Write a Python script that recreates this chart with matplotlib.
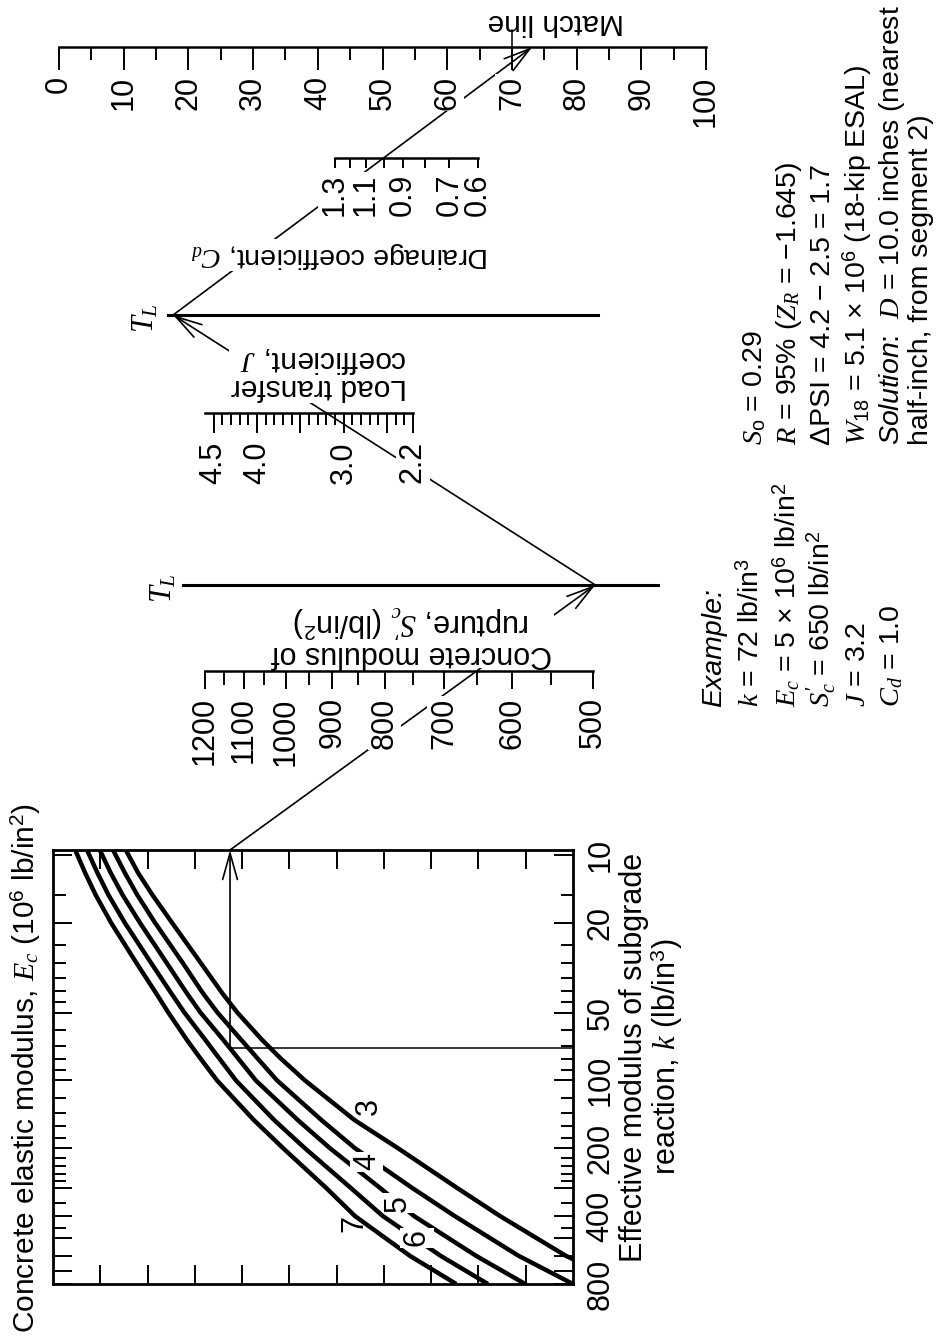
import numpy as np
import matplotlib.pyplot as plt
from matplotlib.ticker import NullFormatter

plt.rcParams['font.family'] = ['Liberation Sans', 'DejaVu Sans']
plt.rcParams['font.size'] = 22
plt.rcParams['mathtext.fontset'] = 'custom'
plt.rcParams['mathtext.rm'] = 'Liberation Sans'
plt.rcParams['mathtext.it'] = 'Liberation Serif:italic'
plt.rcParams['mathtext.sf'] = 'Liberation Sans:italic'

# ---- data ---------------------------------------------------------------
# curves of constant Ec (10^6 psi), read as position on the unlabeled
# turning scale (0..11) at given k values
curve_k = [9.5, 12, 15, 20, 30, 41, 50, 66, 80, 100, 150, 200, 300, 400, 600, 800]
ec3_x = [1.54, 1.80, 2.10, 2.52, 3.12, 3.58, 3.90, 4.42, 4.82, 5.33, 6.38, 7.30, 8.55, 9.46, 10.85, 12.10]
ec4_x = [1.27, 1.52, 1.78, 2.16, 2.74, 3.17, 3.48, 3.98, 4.33, 4.74, 5.68, 6.39, 7.60, 8.50, 9.85, 11.00]
ec5_x = [0.99, 1.22, 1.47, 1.84, 2.40, 2.83, 3.12, 3.60, 3.92, 4.29, 5.18, 5.86, 6.92, 7.64, 8.95, 9.99]
ec6_x = [0.72, 0.94, 1.17, 1.52, 2.07, 2.50, 2.78, 3.22, 3.52, 3.87, 4.68, 5.33, 6.30, 6.98, 8.20, 9.20]
ec7_x = [0.47, 0.68, 0.90, 1.23, 1.76, 2.18, 2.44, 2.83, 3.12, 3.47, 4.25, 4.87, 5.78, 6.39, 7.55, 8.53]
ec_labels = ['3', '4', '5', '6', '7']

k_labels = [10, 20, 50, 100, 200, 400, 800]
k_major = [10, 20, 50, 100, 200, 300, 400, 500, 600, 700, 800]
k_minor = [15, 25, 30, 35, 40, 45, 60, 70, 80, 90, 120, 140, 160, 180,
           220, 240, 260, 280, 350, 450]
turn_ticks = [1, 2, 3, 4, 5, 6, 7, 8, 9, 10]

sc_major = [1200, 1100, 1000, 900, 800, 700, 600, 500]
sc_minor = [1150, 1050, 950, 850, 750, 650, 550]
j_major = [4.5, 4.0, 3.0, 2.2]
j_long = [3.5, 2.5]
j_minor = [2.3, 2.4, 2.6, 2.7, 2.8, 2.9, 3.1, 3.2, 3.3, 3.4, 3.6, 3.7,
           3.8, 3.9, 4.1, 4.2, 4.3, 4.4]
cd_major = [1.3, 1.1, 0.9, 0.7, 0.6]
cd_minor = [1.2, 1.0, 0.8]
match_major = [0, 10, 20, 30, 40, 50, 60, 70, 80, 90, 100]
match_minor = [5, 15, 25, 35, 45, 55, 65, 75, 85, 95]
match_mark = 70

# example
k_ex = 72
ec_ex_x = ec5_x
sc_ex = 650
j_ex = 3.2
cd_ex = 1.0

W, H = 936, 1339
fig = plt.figure(figsize=(W / 100, H / 100), dpi=100)


def px_axes(x0, y0, x1, y1):
    return fig.add_axes([x0 / W, 1 - y1 / H, (x1 - x0) / W, (y1 - y0) / H])


# overlay in pixel coordinates for the example path and titles
ov = px_axes(0, 0, W, H)
ov.set_xlim(0, W)
ov.set_ylim(H, 0)
ov.axis('off')
ov.set_zorder(1)


def nomo_scale(x0, x1, y, tlen, lim, major, labels, minor, mlen, log=True, pad=6):
    ax = px_axes(x0, y, x1, y + tlen)
    ax.set_zorder(2)
    ax.patch.set_visible(False)
    for s in ('left', 'right', 'bottom'):
        ax.spines[s].set_visible(False)
    ax.spines['top'].set_linewidth(1.8)
    if log:
        ax.set_xscale('log')
    ax.set_xlim(*lim)
    ax.set_ylim(0, 1)
    ax.set_yticks([])
    ax.set_xticks(major, labels=labels)
    ax.set_xticks(minor, minor=True)
    ax.xaxis.set_minor_formatter(NullFormatter())
    ax.tick_params(axis='x', which='both', direction='in', top=True, bottom=False,
                   labeltop=False, labelbottom=True, labelrotation=90, width=1.4,
                   pad=pad, labelsize=22)
    ax.tick_params(axis='x', which='major', length=tlen * 0.72)
    ax.tick_params(axis='x', which='minor', length=mlen * 0.72)
    for lbl in ax.get_xticklabels():
        lbl.set_bbox(dict(fc='white', ec='none', pad=1))
    return ax


def tl_line(x0, x1, y):
    ax = px_axes(x0, y, x1, y + 1)
    ax.set_zorder(2)
    ax.patch.set_visible(False)
    for s in ('left', 'right', 'bottom'):
        ax.spines[s].set_visible(False)
    ax.spines['top'].set_linewidth(2.2)
    ax.set_xticks([])
    ax.set_yticks([])
    return ax


# ---- segment 1 chart ----------------------------------------------------
ax_k = px_axes(53, 850, 573, 1284)
ax_k.set_zorder(2)
ax_k.patch.set_visible(False)
ax_k.set_yscale('log')
ax_k.set_xlim(0, 11)
ax_k.set_ylim(800, 9.5)
for s in ax_k.spines.values():
    s.set_linewidth(2)

ax_k.set_xticks(turn_ticks)
ax_k.tick_params(axis='x', which='both', direction='in', top=True, bottom=True,
                 labelbottom=False, length=14, width=1.4)
ax_k.set_yticks(k_major, labels=[str(v) if v in k_labels else '' for v in k_major])
ax_k.set_yticks(k_minor, minor=True)
ax_k.yaxis.set_minor_formatter(NullFormatter())
ax_k.tick_params(axis='y', which='both', direction='in', left=True, right=True,
                 labelleft=False, labelright=True, labelrotation=90, width=1.4, pad=9,
                 labelsize=22)
ax_k.tick_params(axis='y', which='major', length=14)
ax_k.tick_params(axis='y', which='minor', length=9)
plt.setp(ax_k.get_yticklabels(), va='center')

for xs in (ec3_x, ec4_x, ec5_x, ec6_x, ec7_x):
    ax_k.plot(xs, curve_k, color='k', lw=3.2, solid_capstyle='butt',
              solid_joinstyle='round')

ec_label_pos = [(6.69, 131), (6.64, 230), (7.30, 350), (7.70, 500), (6.37, 430)]
for lab, (u, kk) in zip(ec_labels, ec_label_pos):
    gap = lab in ('4', '5', '6')
    ax_k.text(u, kk, lab, rotation=90, ha='center', va='center', fontsize=22, zorder=4,
              bbox=dict(fc='white', ec='none', pad=1) if gap else None)

# example inside chart: k -> Ec curve -> top edge
x_ex = np.interp(np.log10(k_ex), np.log10(curve_k), ec_ex_x)
k_top = ax_k.get_ylim()[1]
ax_k.plot([ax_k.get_xlim()[1], x_ex], [k_ex, k_ex], color='k', lw=1.1)
arrow = dict(arrowstyle='->,head_length=1.0,head_width=0.28', lw=1.2, color='k',
             shrinkA=0, shrinkB=0, mutation_scale=19)
ax_k.annotate('', xy=(x_ex, k_top), xytext=(x_ex, k_ex), arrowprops=arrow,
              annotation_clip=False)

# ---- nomograph scales ---------------------------------------------------
ax_sc = nomo_scale(205, 593, 671, 18, (1200, 500), sc_major,
                   [str(v) for v in sc_major], sc_minor, 14, pad=6)
ax_t1 = tl_line(183, 658, 585)
ax_j = nomo_scale(205, 413, 413, 20, (4.6, 2.2), j_major + j_long,
                  ['4.5', '4.0', '3.0', '2.2', '', ''], j_minor, 12, log=False, pad=6)
ax_t2 = tl_line(168, 598, 315)
ax_cd = nomo_scale(335, 478, 158, 10, (1.3, 0.6), cd_major,
                   [f'{v:.1f}' for v in cd_major], cd_minor, 10, pad=4)
ax_m = nomo_scale(59, 706, 47, 23, (0, 100), match_major,
                  [str(v) for v in match_major], match_minor, 13, log=False, pad=4)
ax_m.plot([match_mark, match_mark], [1, 1.75], color='k', lw=1.1, clip_on=False)

# ---- example path through the pivot lines --------------------------------
to_ov = ov.transData.inverted()


def top_point(ax, v):
    return ax.transData.transform((v, 1.0))


def extend_to(p, q, y):
    t = (y - p[1]) / (q[1] - p[1])
    return p + t * (q - p)


pA = ax_k.transData.transform((x_ex, k_top))
pB = top_point(ax_sc, sc_ex)
pC = extend_to(pA, pB, ax_t1.transAxes.transform((0, 1))[1])
pD = top_point(ax_j, j_ex)
pE = extend_to(pC, pD, ax_t2.transAxes.transform((0, 1))[1])
pF = top_point(ax_cd, cd_ex)
pG = extend_to(pE, pF, ax_m.transAxes.transform((0, 1))[1])

for start, end in ((pA, pC), (pC, pE), (pE, pG)):
    ov.annotate('', xy=to_ov.transform(end), xytext=to_ov.transform(start),
                arrowprops=arrow, zorder=2)

# ---- titles --------------------------------------------------------------
white = dict(fc='white', ec='none', pad=1)
ov.text(35, 1333, 'Concrete elastic modulus, $E_c$ (10$^6$ lb/in$^2$)', rotation=90,
        rotation_mode='anchor', ha='left', va='baseline', fontsize=21.5)
ov.text(652, 1057, 'Effective modulus of subgrade\nreaction, $k$ (lb/in$^3$)',
        rotation=90, ha='center', va='center', multialignment='center',
        linespacing=0.95, fontsize=22)
ov.text(412, 636, "Concrete modulus of\nrupture, $S_c'$ (lb/in$^2$)", rotation=180,
        ha='center', va='center', multialignment='center', linespacing=0.95,
        fontsize=22, bbox=white, zorder=3)
ov.text(407, 373, 'Load transfer\ncoefficient, $J$', rotation=180, ha='right',
        va='center', multialignment='left', linespacing=0.95, fontsize=21.5,
        bbox=white, zorder=3)
ov.text(340, 255, 'Drainage coefficient, $C_d$', rotation=180, ha='center',
        va='center', fontsize=20.5, bbox=white, zorder=3)
ov.text(556, 22, 'Match line', rotation=180, ha='center', va='center', fontsize=21.5)
ov.text(178, 588, '$T_L$', rotation=90, ha='right', va='center', fontsize=22)
ov.text(160, 318, '$T_L$', rotation=90, ha='right', va='center', fontsize=22)

# ---- example / solution text ---------------------------------------------
col1 = ['Example:', '$k$ = 72 lb/in$^3$', '$E_c$ = 5 × 10$^6$ lb/in$^2$',
        "$S_c'$ = 650 lb/in$^2$", '$J$ = 3.2', '$C_d$ = 1.0']
col1_x = [721, 758, 795, 830, 865, 899]
col2 = ['$S_\\mathrm{o}$ = 0.29', '$R$ = 95% ($Z_R$ = −1.645)',
        'ΔPSI = 4.2 − 2.5 = 1.7', '$W_{18}$ = 5.1 × 10$^6$ (18-kip ESAL)',
        '$\\mathsf{Solution}$:  $D$ = 10.0 inches (nearest',
        'half-inch, from segment 2)']
col2_x = [762, 796, 830, 865, 899, 928]
for i, (s, x) in enumerate(zip(col1, col1_x)):
    ov.text(x, 707, s, rotation=90, rotation_mode='anchor', ha='left',
            va='baseline', fontsize=20.5, style='italic' if i == 0 else 'normal')
for s, x in zip(col2, col2_x):
    ov.text(x, 445, s, rotation=90, rotation_mode='anchor', ha='left',
            va='baseline', fontsize=20.5)

fig.savefig('out.png', dpi=100)
